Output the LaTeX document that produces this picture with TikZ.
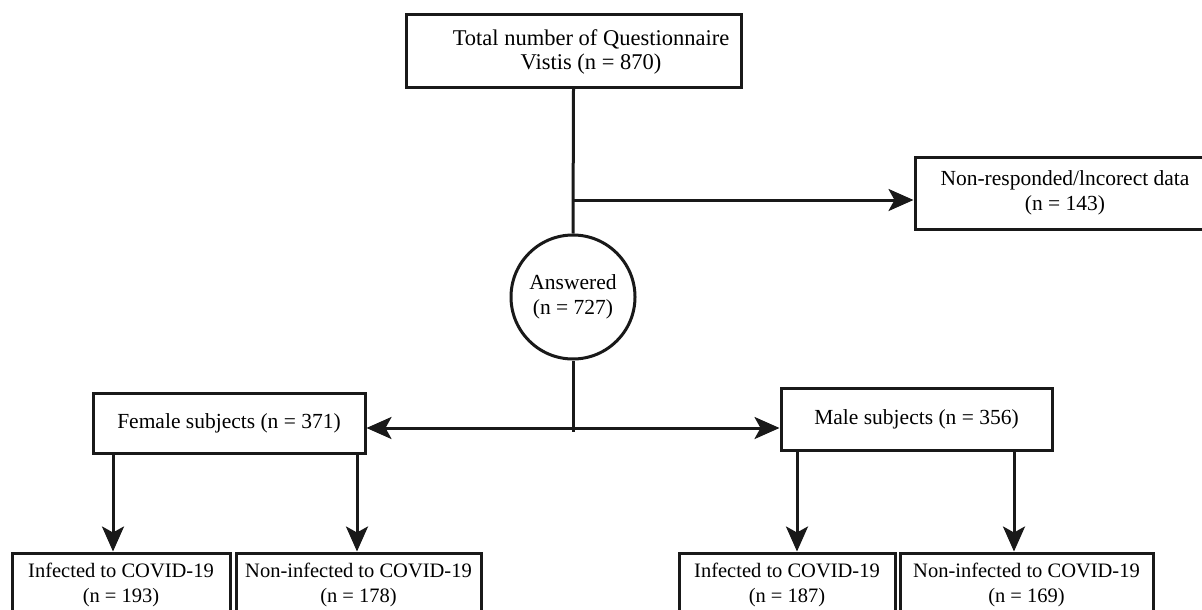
\documentclass[tikz,border=0pt]{standalone}
\usepackage{fontspec}
\setmainfont{Liberation Serif}
\usetikzlibrary{arrows.meta}
\tikzset{
  box/.style={draw=black!90, line width=3pt, rectangle, inner sep=0pt, align=center, font=\fontsize{21.5}{24.5}\selectfont},
  smallbox/.style={box, font=\fontsize{20.5}{24.5}\selectfont},
  txt/.style={inner sep=0pt, align=center, font=\fontsize{22.5}{24.5}\selectfont},
  ln/.style={draw=black!90, line width=3pt},
  arr/.style={ln, -{Stealth[length=25pt,width=22pt,inset=6pt]}},
  darr/.style={ln, {Stealth[length=25pt,width=22pt,inset=6pt]}-{Stealth[length=25pt,width=22pt,inset=6pt]}}
}
\begin{document}
\begin{tikzpicture}[x=1pt,y=-1pt]
\useasboundingbox (0,0) rectangle (1202,610);
\clip (0,0) rectangle (1202,610);
\fill[white] (0,0) rectangle (1202,610);
% top box
\node[box, minimum width=335pt, minimum height=72pt] (top) at (573.5,51) {};
\node[txt] (toptext) at (591,52) {Total number of Questionnaire\\Vistis (n = 870)};
% non-responded
\node[box, minimum width=300pt, minimum height=72pt] (nr) at (1065,193) {Non-responded/lncorect data\\(n = 143)};
% answered circle
\node[box, circle, minimum size=124pt] (ans) at (573,297) {Answered\\(n = 727)};
% female / male
\node[box, minimum width=272pt, minimum height=60pt] (fem) at (229,423) {Female subjects (n = 371)};
\node[box, minimum width=271pt, minimum height=62pt] (mal) at (916.5,419) {Male subjects (n = 356)};
% bottom boxes
\node[smallbox, minimum width=218pt, minimum height=64pt] (b1) at (121,585) {Infected to COVID-19\\(n = 193)};
\node[smallbox, minimum width=245pt, minimum height=64pt] (b2) at (358.5,585) {Non-infected to COVID-19\\(n = 178)};
\node[smallbox, minimum width=216pt, minimum height=64pt] (b3) at (787,585) {Infected to COVID-19\\(n = 187)};
\node[smallbox, minimum width=253pt, minimum height=64pt] (b4) at (1026.5,585) {Non-infected to COVID-19\\(n = 169)};
% connectors
\coordinate (br) at (573,200);
\coordinate (split) at (573,428);
\coordinate (splitend) at (573,432);
\draw[ln] (top.south) -- (ans.north);
\draw[arr] (br) -- (nr.west |- br);
\draw[ln] (ans.south) -- (splitend);
\draw[darr] (fem.east |- split) -- (mal.west |- split);
\draw[arr] (fem.south -| 113,0) -- (b1.north -| 113,0);
\draw[arr] (fem.south -| 357,0) -- (b2.north -| 357,0);
\draw[arr] (mal.south -| 797,0) -- (b3.north -| 797,0);
\draw[arr] (mal.south -| 1014,0) -- (b4.north -| 1014,0);
\end{tikzpicture}
\end{document}
